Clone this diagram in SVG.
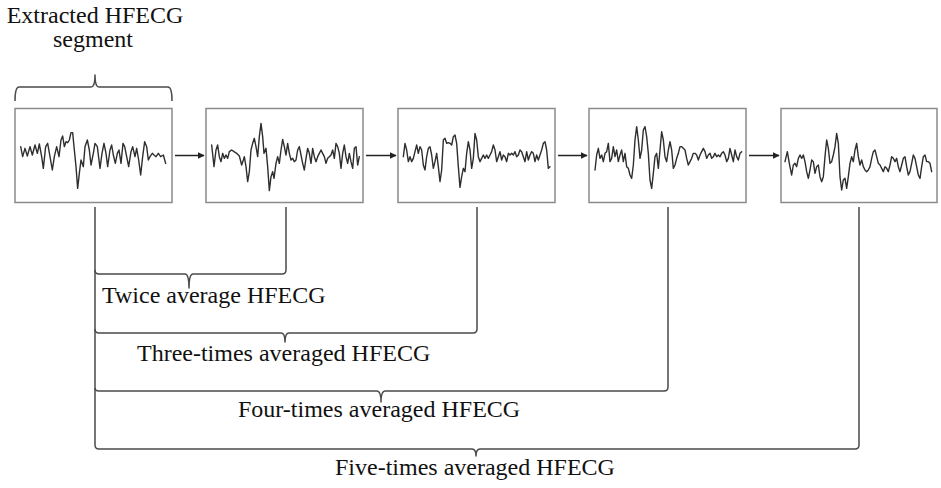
<svg xmlns="http://www.w3.org/2000/svg" width="941" height="488" viewBox="0 0 941 488">
<style>
.box{fill:#fff;stroke:#8a8a8a;stroke-width:1.5}
.wave{fill:none;stroke:#2e2e2e;stroke-width:1.4;stroke-linejoin:round;stroke-linecap:round;vector-effect:non-scaling-stroke}
.br{fill:none;stroke:#4a4a4a;stroke-width:1.5;stroke-linejoin:round}
.arr{fill:none;stroke:#222;stroke-width:1.5}
.t{font-family:"Liberation Serif","Times New Roman",serif;font-size:24px;fill:#111}
</style>
<defs>
<marker id="ah" viewBox="0 0 10 10" refX="9" refY="5" markerWidth="7" markerHeight="7" markerUnits="userSpaceOnUse" orient="auto">
<path d="M0,0 L10,5 L0,10 z" fill="#222"/>
</marker>
</defs>
<rect width="941" height="488" fill="#fff"/>

<g id="label-top">
<text class="t" x="95" y="23" text-anchor="middle">Extracted HFECG</text>
<text class="t" x="93" y="47" text-anchor="middle">segment</text>
<path class="br" d="M15,101 Q15,87 19,87 L91,87 Q95,87 95,75 Q95,87 99,87 L168,87 Q172,87 172,101"/>
</g>

<g id="box1">
<rect class="box" x="15" y="108.5" width="157" height="94"/>
<g transform="scale(0.33333)"><polyline class="wave" points="62,440 68,470 75,445 82,468 90,440 97,465 105,435 112,460 118,432 125,470 130,505 137,440 143,430 150,470 157,510 163,470 170,440 177,470 183,420 188,408 193,440 198,425 203,428 208,420 213,398 218,398 222,440 228,500 233,565 238,520 243,480 250,500 255,440 262,420 268,450 273,495 280,460 285,430 292,440 300,505 306,460 312,430 318,460 323,500 330,450 335,435 340,465 346,490 352,460 357,450 363,490 369,430 374,440 380,470 386,500 393,455 398,440 405,470 410,445 416,480 422,525 428,470 434,425 440,440 445,480 450,470 457,460 462,465 468,470 475,460 482,470 490,465 497,490"/></g>
</g>

<g id="box2">
<rect class="box" x="206" y="108.5" width="157" height="94"/>
<g transform="translate(190,100) scale(0.33333)"><polyline class="wave" points="65,135 72,200 78,150 83,135 88,170 93,185 98,160 103,175 108,165 113,175 118,155 125,150 132,155 140,160 148,168 155,195 160,180 163,170 168,200 173,245 178,215 183,150 188,130 193,115 198,140 203,170 208,110 213,70 218,110 222,160 228,145 233,200 238,272 243,230 248,215 252,235 258,190 263,170 268,190 273,150 278,118 283,140 288,165 293,130 298,160 303,180 308,175 313,185 318,180 323,150 328,140 333,165 338,190 343,210 348,175 353,145 358,160 363,190 368,145 373,170 378,185 383,170 388,160 393,150 398,160 403,170 408,190 413,175 418,170 423,165 428,150 433,175 438,130 443,140 448,160 453,205 458,160 463,135 468,170 473,190 478,160 483,185 488,205 493,145 498,140 503,195 508,170"/></g>
</g>

<g id="box3">
<rect class="box" x="398" y="108.5" width="157" height="94"/>
<g transform="translate(380,100) scale(0.33333)"><polyline class="wave" points="70,170 75,130 80,150 85,185 90,170 95,185 100,175 105,155 110,135 115,160 120,140 125,150 130,195 135,210 140,170 145,145 150,140 155,165 160,205 165,185 170,160 175,200 180,245 185,210 190,120 195,115 200,130 205,128 210,130 215,135 220,110 225,105 230,130 235,200 240,262 245,230 250,205 255,215 260,160 265,125 270,150 275,205 280,175 285,100 290,120 295,170 300,185 305,175 310,165 315,175 320,165 325,175 330,165 335,155 340,135 345,150 350,185 355,170 360,155 365,180 370,165 375,170 380,185 385,160 390,165 395,160 400,165 405,155 410,170 415,165 420,150 425,155 430,170 435,185 440,155 445,180 450,165 455,155 460,160 465,185 470,165 475,180 480,165 485,150 490,130 495,125 500,150 505,205 510,200"/></g>
</g>

<g id="box4">
<rect class="box" x="589" y="108.5" width="157" height="94"/>
<g transform="translate(570,100) scale(0.33333)"><polyline class="wave" points="75,210 80,165 85,145 90,175 95,165 100,185 105,160 110,155 115,130 120,185 125,175 130,140 135,170 140,150 145,185 150,165 155,150 160,185 165,160 170,200 175,205 180,225 185,235 190,195 195,120 200,80 205,120 210,175 215,150 220,90 225,80 230,110 235,160 240,240 245,265 250,220 255,170 260,160 265,205 270,150 275,95 280,120 285,170 290,185 295,150 300,125 305,150 310,205 315,195 320,175 325,160 330,140 335,140 340,145 345,150 350,175 355,195 360,185 365,175 370,160 375,160 380,165 385,180 390,165 395,155 400,145 405,155 410,175 415,165 420,160 425,175 430,170 435,160 440,170 445,165 450,170 455,160 460,155 465,165 470,185 475,175 480,145 485,165 490,185 495,150 500,170 505,180 510,160 515,155"/></g>
</g>

<g id="box5">
<rect class="box" x="781" y="108.5" width="156" height="94"/>
<g transform="translate(760,100) scale(0.33333)"><polyline class="wave" points="75,185 82,155 88,190 95,225 100,195 105,190 110,200 115,175 120,165 125,175 130,165 135,185 140,215 145,235 150,210 155,180 160,185 165,220 170,200 175,195 180,230 185,245 190,230 195,170 200,120 205,145 210,190 215,185 220,165 225,140 230,100 235,130 240,230 245,270 250,240 255,235 260,265 265,230 270,190 275,170 280,185 285,150 290,130 295,170 300,195 305,180 310,200 315,210 320,215 325,210 330,200 335,175 340,155 345,150 350,170 355,190 360,195 365,205 370,215 375,200 380,205 385,215 390,195 395,170 400,175 405,185 410,175 415,200 420,215 425,195 430,175 435,170 440,200 445,225 450,215 455,190 460,165 465,175 470,200 475,225 480,235 485,200 490,170 495,165 500,185 505,185 510,190 515,215"/></g>
</g>

<g id="connectors">
<line class="arr" x1="175" y1="155.5" x2="204" y2="155.5" marker-end="url(#ah)"/>
<line class="arr" x1="366" y1="155.5" x2="396" y2="155.5" marker-end="url(#ah)"/>
<line class="arr" x1="558" y1="155.5" x2="587" y2="155.5" marker-end="url(#ah)"/>
<line class="arr" x1="749" y1="155.5" x2="779" y2="155.5" marker-end="url(#ah)"/>
<path class="br" d="M95,207 L95,445 Q95,449 99,449 L472,449 Q476,449 476,456 Q476,449 480,449 L855,449 Q859,449 859,445 L859,207"/>
<path class="br" d="M95,388 Q95,391 99,391 L377,391 Q381,391 381,402 Q381,391 385,391 L664,391 Q668,391 668,387 L668,207"/>
<path class="br" d="M95,329 Q95,333 99,333 L281,333 Q285,333 285,342 Q285,333 289,333 L473,333 Q477,333 477,329 L477,207"/>
<path class="br" d="M95,270 Q95,274 99,274 L185,274 Q189,274 189,288 Q189,274 193,274 L282,274 Q286,274 286,270 L286,207"/>
</g>

<g id="labels">
<text class="t" x="102" y="303">Twice average HFECG</text>
<text class="t" x="137" y="361">Three-times averaged HFECG</text>
<text class="t" x="238" y="417">Four-times averaged HFECG</text>
<text class="t" x="335" y="475">Five-times averaged HFECG</text>
</g>
</svg>
